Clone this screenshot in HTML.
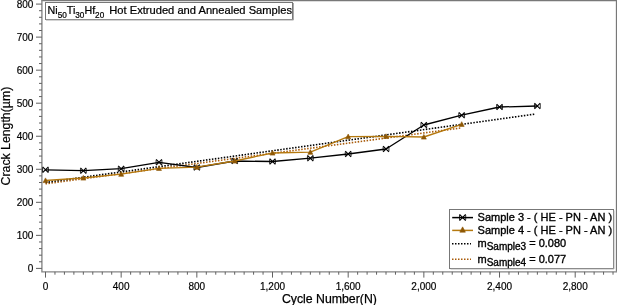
<!DOCTYPE html>
<html><head><meta charset="utf-8"><style>
html,body{margin:0;padding:0;background:#fff;width:617px;height:305px;overflow:hidden}
svg{display:block;will-change:transform}
text{font-family:"Liberation Sans",sans-serif}
</style></head><body>
<svg width="617" height="305" viewBox="0 0 617 305" font-family="Liberation Sans, sans-serif">
<path d="M41.5 0.5 H616.5 V271.8" fill="none" stroke="#787878" stroke-width="1.3"/>
<path d="M41.9 0 V271.8 H617" fill="none" stroke="#858585" stroke-width="1.35"/>
<path d="M36 268.40 H41.9 M39 261.79 H41.9 M39 255.18 H41.9 M39 248.58 H41.9 M39 241.97 H41.9 M36 235.36 H41.9 M39 228.75 H41.9 M39 222.14 H41.9 M39 215.54 H41.9 M39 208.93 H41.9 M36 202.32 H41.9 M39 195.71 H41.9 M39 189.10 H41.9 M39 182.50 H41.9 M39 175.89 H41.9 M36 169.28 H41.9 M39 162.67 H41.9 M39 156.06 H41.9 M39 149.46 H41.9 M39 142.85 H41.9 M36 136.24 H41.9 M39 129.63 H41.9 M39 123.02 H41.9 M39 116.42 H41.9 M39 109.81 H41.9 M36 103.20 H41.9 M39 96.59 H41.9 M39 89.98 H41.9 M39 83.38 H41.9 M39 76.77 H41.9 M36 70.16 H41.9 M39 63.55 H41.9 M39 56.94 H41.9 M39 50.34 H41.9 M39 43.73 H41.9 M36 37.12 H41.9 M39 30.51 H41.9 M39 23.90 H41.9 M39 17.30 H41.9 M39 10.69 H41.9 M36 4.08 H41.9 M45.50 271.8 V277.6 M54.96 271.8 V274.7 M64.42 271.8 V274.7 M73.88 271.8 V274.7 M83.34 271.8 V274.7 M92.79 271.8 V274.7 M102.25 271.8 V274.7 M111.71 271.8 V274.7 M121.17 271.8 V277.6 M130.63 271.8 V274.7 M140.09 271.8 V274.7 M149.55 271.8 V274.7 M159.00 271.8 V274.7 M168.46 271.8 V274.7 M177.92 271.8 V274.7 M187.38 271.8 V274.7 M196.84 271.8 V277.6 M206.30 271.8 V274.7 M215.76 271.8 V274.7 M225.22 271.8 V274.7 M234.68 271.8 V274.7 M244.13 271.8 V274.7 M253.59 271.8 V274.7 M263.05 271.8 V274.7 M272.51 271.8 V277.6 M281.97 271.8 V274.7 M291.43 271.8 V274.7 M300.89 271.8 V274.7 M310.35 271.8 V274.7 M319.80 271.8 V274.7 M329.26 271.8 V274.7 M338.72 271.8 V274.7 M348.18 271.8 V277.6 M357.64 271.8 V274.7 M367.10 271.8 V274.7 M376.56 271.8 V274.7 M386.01 271.8 V274.7 M395.47 271.8 V274.7 M404.93 271.8 V274.7 M414.39 271.8 V274.7 M423.85 271.8 V277.6 M433.31 271.8 V274.7 M442.77 271.8 V274.7 M452.23 271.8 V274.7 M461.69 271.8 V274.7 M471.14 271.8 V274.7 M480.60 271.8 V274.7 M490.06 271.8 V274.7 M499.52 271.8 V277.6 M508.98 271.8 V274.7 M518.44 271.8 V274.7 M527.90 271.8 V274.7 M537.36 271.8 V274.7 M546.81 271.8 V274.7 M556.27 271.8 V274.7 M565.73 271.8 V274.7 M575.19 271.8 V277.6 M584.65 271.8 V274.7 M594.11 271.8 V274.7 M603.57 271.8 V274.7 M613.02 271.8 V274.7" fill="none" stroke="#606060" stroke-width="1"/>
<g font-size="10" fill="#000" stroke="#000" stroke-width="0.18"><text x="33.4" y="272.00" text-anchor="end">0</text><text x="33.4" y="238.96" text-anchor="end">100</text><text x="33.4" y="205.92" text-anchor="end">200</text><text x="33.4" y="172.88" text-anchor="end">300</text><text x="33.4" y="139.84" text-anchor="end">400</text><text x="33.4" y="106.80" text-anchor="end">500</text><text x="33.4" y="73.76" text-anchor="end">600</text><text x="33.4" y="40.72" text-anchor="end">700</text><text x="33.4" y="7.68" text-anchor="end">800</text><text x="45.50" y="289.8" text-anchor="middle">0</text><text x="121.17" y="289.8" text-anchor="middle">400</text><text x="196.84" y="289.8" text-anchor="middle">800</text><text x="272.51" y="289.8" text-anchor="middle">1,200</text><text x="348.18" y="289.8" text-anchor="middle">1,600</text><text x="423.85" y="289.8" text-anchor="middle">2,000</text><text x="499.52" y="289.8" text-anchor="middle">2,400</text><text x="575.19" y="289.8" text-anchor="middle">2,800</text></g>
<text x="329.4" y="302.9" font-size="12.3" text-anchor="middle" fill="#000" stroke="#000" stroke-width="0.25">Cycle Number(N)</text>
<text transform="translate(9.5 136.1) rotate(-90)" font-size="12.3" text-anchor="middle" fill="#000" stroke="#000" stroke-width="0.2">Crack Length(µm)</text>
<path d="M45.50 183.82 L461.69 127.85" stroke="#A85A08" stroke-width="1.6" stroke-dasharray="1.5 1.5" fill="none"/>
<path d="M45.50 182.50 L534.52 114.17" stroke="#000" stroke-width="1.6" stroke-dasharray="1.5 1.5" fill="none"/>
<polyline points="45.50,169.80 83.34,170.70 121.17,168.70 159.00,162.30 196.84,167.50 234.68,161.00 272.51,161.50 310.35,158.20 348.18,154.00 386.01,149.00 423.85,125.00 461.69,115.20 499.52,107.00 537.36,106.00" fill="none" stroke="#000" stroke-width="1.3" stroke-linejoin="round"/>
<path d="M42.60 166.90 L48.40 172.70 M48.40 166.90 L42.60 172.70  M80.44 167.80 L86.24 173.60 M86.24 167.80 L80.44 173.60  M118.27 165.80 L124.07 171.60 M124.07 165.80 L118.27 171.60  M156.10 159.40 L161.91 165.20 M161.91 159.40 L156.10 165.20  M193.94 164.60 L199.74 170.40 M199.74 164.60 L193.94 170.40  M231.78 158.10 L237.58 163.90 M237.58 158.10 L231.78 163.90  M269.61 158.60 L275.41 164.40 M275.41 158.60 L269.61 164.40  M307.45 155.30 L313.25 161.10 M313.25 155.30 L307.45 161.10  M345.28 151.10 L351.08 156.90 M351.08 151.10 L345.28 156.90  M383.12 146.10 L388.91 151.90 M388.91 146.10 L383.12 151.90  M420.95 122.10 L426.75 127.90 M426.75 122.10 L420.95 127.90  M458.79 112.30 L464.58 118.10 M464.58 112.30 L458.79 118.10  M496.62 104.10 L502.42 109.90 M502.42 104.10 L496.62 109.90  M534.46 103.10 L540.25 108.90 M540.25 103.10 L534.46 108.90 " fill="none" stroke="#000" stroke-width="1.15"/>
<path d="M42.60 167.48 V172.12 M48.40 167.48 V172.12 M80.44 168.38 V173.02 M86.24 168.38 V173.02 M118.27 166.38 V171.02 M124.07 166.38 V171.02 M156.10 159.98 V164.62 M161.91 159.98 V164.62 M193.94 165.18 V169.82 M199.74 165.18 V169.82 M231.78 158.68 V163.32 M237.58 158.68 V163.32 M269.61 159.18 V163.82 M275.41 159.18 V163.82 M307.45 155.88 V160.52 M313.25 155.88 V160.52 M345.28 151.68 V156.32 M351.08 151.68 V156.32 M383.12 146.68 V151.32 M388.91 146.68 V151.32 M420.95 122.68 V127.32 M426.75 122.68 V127.32 M458.79 112.88 V117.52 M464.58 112.88 V117.52 M496.62 104.68 V109.32 M502.42 104.68 V109.32 M534.46 103.68 V108.32 M540.25 103.68 V108.32" fill="none" stroke="#000" stroke-width="0.8"/>
<polyline points="45.50,180.50 83.34,178.00 121.17,174.20 159.00,168.30 196.84,167.20 234.68,161.00 272.51,153.00 310.35,152.20 348.18,136.70 386.01,136.40 423.85,137.00 461.69,124.30" fill="none" stroke="#B5790F" stroke-width="1.35" stroke-linejoin="round"/>
<path d="M45.50 177.88 L48.00 182.62 L43.00 182.62Z M83.34 175.38 L85.84 180.12 L80.84 180.12Z M121.17 171.57 L123.67 176.32 L118.67 176.32Z M159.00 165.68 L161.50 170.43 L156.50 170.43Z M196.84 164.57 L199.34 169.32 L194.34 169.32Z M234.68 158.38 L237.18 163.12 L232.18 163.12Z M272.51 150.38 L275.01 155.12 L270.01 155.12Z M310.35 149.57 L312.85 154.32 L307.85 154.32Z M348.18 134.07 L350.68 138.82 L345.68 138.82Z M386.01 133.78 L388.51 138.53 L383.51 138.53Z M423.85 134.38 L426.35 139.12 L421.35 139.12Z M461.69 121.67 L464.19 126.42 L459.19 126.42Z" fill="#8E5805" stroke="#8E5805" stroke-width="0.6"/>
<rect x="45.5" y="2.5" width="247" height="17" fill="#fff" stroke="#777" stroke-width="1"/>
<path d="M46 20 H293.5 V3" fill="none" stroke="#aaa" stroke-width="1"/>
<text x="47.6" y="14.2" font-size="10.7" fill="#000" stroke="#000" stroke-width="0.22">Ni<tspan font-size="8.2" dy="4">50</tspan><tspan dy="-4">Ti</tspan><tspan font-size="8.2" dy="4">30</tspan><tspan dy="-4">Hf</tspan><tspan font-size="8.2" dy="4">20</tspan><tspan dy="-4" x="109.3" font-size="11.15">Hot Extruded and Annealed Samples</tspan></text>
<rect x="449.5" y="209.5" width="164" height="59" fill="#fff" stroke="#777" stroke-width="1"/>
<path d="M450.5 269.0 H614.0 V210.5" fill="none" stroke="#a8a8a8" stroke-width="0.8"/>
<path d="M452.2 217.6 H473" stroke="#000" stroke-width="1.5"/>
<path d="M459.50 214.40 L465.70 220.60 M465.70 214.40 L459.50 220.60 " stroke="#000" stroke-width="1.2" fill="none"/>
<path d="M459.50 215.02 V219.98 M465.70 215.02 V219.98" stroke="#000" stroke-width="0.8" fill="none"/>
<path d="M452.2 230.4 H473" stroke="#B5790F" stroke-width="1.5"/>
<path d="M462.60 226.86 L465.40 232.18 L459.80 232.18Z" fill="#8E5805" stroke="#8E5805" stroke-width="0.6"/>
<path d="M452 243.8 H471" stroke="#000" stroke-width="1.6" stroke-dasharray="1.5 1.5"/>
<path d="M452 259.3 H471" stroke="#A85A08" stroke-width="1.6" stroke-dasharray="1.5 1.5"/>
<g font-size="11" fill="#000" stroke="#000" stroke-width="0.35"><text x="477.6" y="221.4">Sample 3 - ( HE - PN - AN )</text><text x="477.6" y="234">Sample 4 - ( HE - PN - AN )</text><text x="477.5" y="247.2">m<tspan font-size="10" dy="3.1">Sample3</tspan><tspan dy="-3.1"> = 0.080</tspan></text><text x="477.5" y="262.7">m<tspan font-size="10" dy="3.1">Sample4</tspan><tspan dy="-3.1"> = 0.077</tspan></text></g>
</svg>
</body></html>
